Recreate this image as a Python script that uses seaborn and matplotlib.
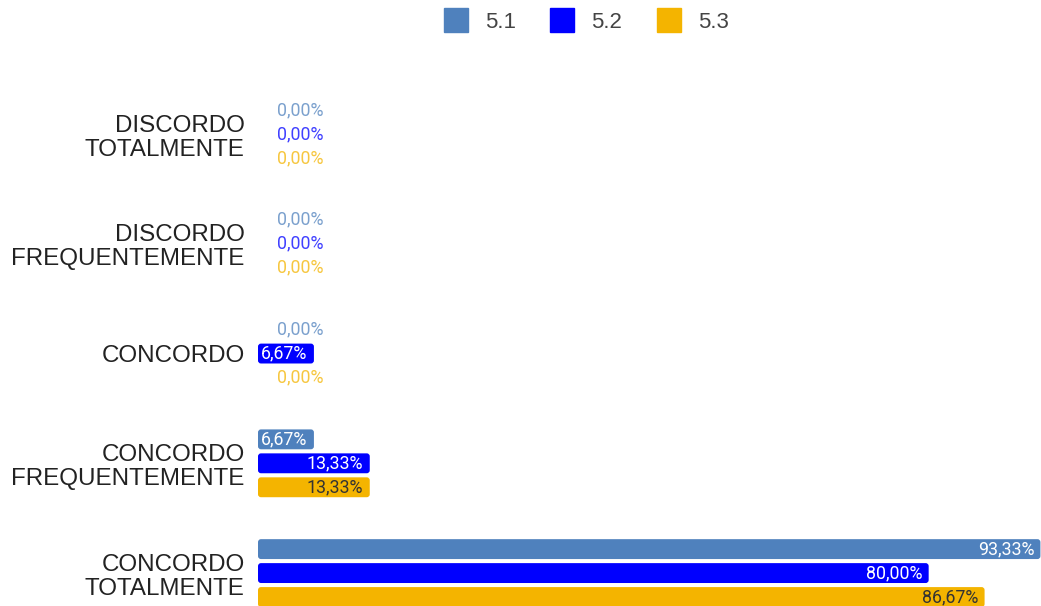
import numpy as np
import pandas as pd
import matplotlib
matplotlib.use("Agg")
import matplotlib.pyplot as plt
from matplotlib.lines import Line2D
from matplotlib.patches import FancyBboxPatch
import seaborn as sns

categorias = ["DISCORDO\nTOTALMENTE", "DISCORDO\nFREQUENTEMENTE", "CONCORDO",
              "CONCORDO\nFREQUENTEMENTE", "CONCORDO\nTOTALMENTE"]
series = ["5.1", "5.2", "5.3"]
s51 = [0.00, 0.00, 0.00, 6.67, 93.33]
s52 = [0.00, 0.00, 6.67, 13.33, 80.00]
s53 = [0.00, 0.00, 0.00, 13.33, 86.67]

cores = ["#4f81bd", "#0000ff", "#f4b400"]
cor_texto_dentro = ["white", "white", "#333333"]

sns.set_theme(style="white")
plt.rcParams["font.family"] = ["Roboto", "DejaVu Sans"]

df = pd.DataFrame({
    "categoria": categorias * 3,
    "serie": [s for s in series for _ in categorias],
    "valor": s51 + s52 + s53,
})

fig = plt.figure(figsize=(10.41, 6.06), dpi=100)
ax = fig.add_axes([258 / 1041, 0, 1 - 258 / 1041, 1])

sns.barplot(data=df, y="categoria", x="valor", hue="serie", orient="h",
            order=categorias, hue_order=series, palette=cores, saturation=1,
            width=0.655, gap=0.17, ax=ax, legend=False, errorbar=None)

ax.set_xlim(0, 93.4)
ax.set_ylim(4.30, -1.221)
for s in ax.spines.values():
    s.set_visible(False)
ax.set_xticks([])
ax.set_xlabel("")
ax.set_ylabel("")
ax.tick_params(axis="y", length=0, pad=9.5)
for lbl in ax.get_yticklabels():
    lbl.set_fontsize(17.4)
    lbl.set_family(["Liberation Sans", "DejaVu Sans"])
    lbl.set_color("#222222")
    lbl.set_ha("right")
    lbl.set_multialignment("right")
    lbl.set_linespacing(1.12)

# cantos arredondados (px -> unidades de dados)
px_x = (1041 - 258) / 93.4
px_y = 606 / (4.30 + 1.221)
r = 3 / px_x
aspecto = (3 / px_y) / r

# rótulos de valor
for i, cont in enumerate(ax.containers):
    for barra in cont:
        v = barra.get_width()
        yc = barra.get_y() + barra.get_height() / 2
        txt = f"{v:.2f}".replace(".", ",") + "%"
        if v == 0:
            ax.annotate(txt, (0, yc), xytext=(13.7, 0), textcoords="offset points",
                        ha="left", va="center", fontsize=12.8, color=cores[i], alpha=0.75)
        else:
            x0, y0 = barra.get_x(), barra.get_y()
            h = barra.get_height()
            arred = FancyBboxPatch((x0, y0), v, h,
                                   boxstyle=f"round,pad=0,rounding_size={r}",
                                   mutation_aspect=aspecto, facecolor=cores[i],
                                   edgecolor="none", zorder=barra.get_zorder())
            ax.add_patch(arred)
            ax.annotate(txt, (v, yc), xytext=(-4.5, 0), textcoords="offset points",
                        ha="right", va="center", fontsize=12.8, color=cor_texto_dentro[i],
                        zorder=5)
        barra.set_visible(False)

handles = [Line2D([], [], marker="s", linestyle="none", markersize=17,
                  markerfacecolor=c, markeredgecolor=c) for c in cores]
fig.legend(handles, series, loc="center", bbox_to_anchor=(0.563, 1 - 22 / 606),
           ncol=3, frameon=False, handlelength=1.1, handletextpad=0.75, columnspacing=1.55,
           labelcolor="#444444", prop={"family": ["Liberation Sans", "DejaVu Sans"], "size": 16})

fig.savefig("out.png", dpi=100)
